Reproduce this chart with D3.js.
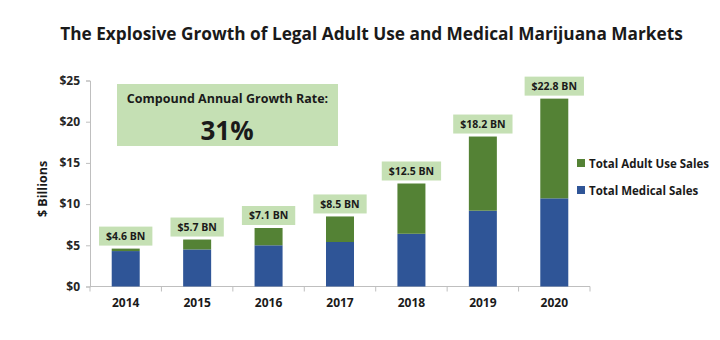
<!DOCTYPE html>
<html>
<head>
<meta charset="utf-8">
<script src="https://cdn.jsdelivr.net/npm/d3@7/dist/d3.min.js"></script>
<style>
  html, body { margin: 0; padding: 0; background: #fff; }
  svg { display: block; font-family: "Open Sans", Lato, sans-serif; }
</style>
</head>
<body>
<svg id="chart" width="720" height="340"></svg>
<script>
// Market size by year, $ billions
const years = ["2014", "2015", "2016", "2017", "2018", "2019", "2020"];
const medicalSales = [4.3, 4.5, 5.0, 5.4, 6.4, 9.2, 10.7];
const totalSales = [4.6, 5.7, 7.1, 8.5, 12.5, 18.2, 22.8];
const adultUseSales = [0.3, 1.2, 2.1, 3.1, 6.1, 9.0, 12.1];
const yTicks = [0, 5, 10, 15, 20, 25];
const seriesNames = ["Total Adult Use Sales", "Total Medical Sales"];
const cagrLabel = "Compound Annual Growth Rate:";
const cagrValue = "31%";
const titleText = "The Explosive Growth of Legal Adult Use and Medical Marijuana Markets";

const colors = { medical: "#2f5597", adult: "#548235", box: "#c5e0b4", axis: "#bfbfbf", text: "#1a1a1a" };

// Shrink a text's font size until it fits the given width
function fitWidth(sel, width) {
  const size = +sel.attr("font-size");
  const w = sel.node().getComputedTextLength();
  if (w > width) sel.attr("font-size", (size * width / w).toFixed(2));
  return sel;
}

const svg = d3.select("#chart");

const x = d3.scaleBand().domain(years).range([90, 590]).paddingInner(0.608).paddingOuter(0.304);
const y = d3.scaleLinear().domain([0, 25]).range([286.5, 80.5]);

// Title
fitWidth(svg.append("text")
  .attr("x", 371.5).attr("y", 40)
  .attr("text-anchor", "middle")
  .attr("font-size", 19).attr("font-weight", 700)
  .attr("fill", colors.text)
  .text(titleText), 623);

// Y axis
const yAxis = svg.append("g").attr("transform", "translate(90,0)")
  .call(d3.axisLeft(y).tickValues(yTicks).tickSize(4).tickFormat(d => "$" + d));
yAxis.select(".domain").attr("stroke", colors.axis);
yAxis.selectAll(".tick line").attr("stroke", colors.axis);
yAxis.selectAll(".tick text")
  .attr("x", -10)
  .attr("font-family", "'Open Sans', sans-serif")
  .attr("font-size", 12).attr("font-weight", 700).attr("fill", "#262626");

// Y axis title
svg.append("text")
  .attr("transform", "translate(47,189) rotate(-90)")
  .attr("text-anchor", "middle")
  .attr("font-size", 12.5).attr("font-weight", 700)
  .attr("fill", colors.text)
  .text("$ Billions");

// X axis baseline with category boundary ticks
const step = x.step();
const x0 = x.range()[0];
svg.append("line")
  .attr("x1", 90).attr("x2", 590).attr("y1", y(0)).attr("y2", y(0))
  .attr("stroke", colors.axis);
svg.append("g").selectAll("line")
  .data(d3.range(years.length + 1))
  .join("line")
  .attr("x1", i => x0 + i * step).attr("x2", i => x0 + i * step)
  .attr("y1", y(0)).attr("y2", y(0) + 5)
  .attr("stroke", colors.axis);
svg.append("g").selectAll("text")
  .data(years)
  .join("text")
  .attr("x", d => x(d) + x.bandwidth() / 2)
  .attr("y", 307)
  .attr("text-anchor", "middle")
  .attr("font-size", 12).attr("font-weight", 700)
  .attr("fill", colors.text)
  .text(d => d);

// Stacked bars
const rows = years.map((yr, i) => ({ year: yr, medical: medicalSales[i], adult: adultUseSales[i], total: totalSales[i] }));
const bars = svg.append("g");
bars.selectAll("rect.med")
  .data(rows).join("rect").attr("class", "med")
  .attr("x", d => x(d.year)).attr("width", x.bandwidth())
  .attr("y", d => y(d.medical)).attr("height", d => y(0) - y(d.medical))
  .attr("fill", colors.medical);
bars.selectAll("rect.adult")
  .data(rows).join("rect").attr("class", "adult")
  .attr("x", d => x(d.year)).attr("width", x.bandwidth())
  .attr("y", d => y(d.total)).attr("height", d => y(d.medical) - y(d.total))
  .attr("fill", colors.adult);

// Total value labels in boxes above each bar
const labels = svg.append("g").selectAll("g").data(rows).join("g");
labels.each(function (d) {
  const g = d3.select(this);
  const cx = x(d.year) + x.bandwidth() / 2;
  const bottom = y(d.total) - 3;
  const rect = g.append("rect").attr("fill", colors.box);
  const t = g.append("text")
    .attr("x", cx).attr("y", bottom - 5.5)
    .attr("text-anchor", "middle")
    .attr("font-size", 10.5).attr("font-weight", 700)
    .attr("fill", colors.text)
    .text("$" + d.total.toFixed(1) + " BN");
  const w = t.node().getComputedTextLength() + 14;
  rect.attr("x", cx - w / 2).attr("y", bottom - 19).attr("width", w).attr("height", 19);
});

// Growth rate callout
svg.append("rect")
  .attr("x", 117).attr("y", 84).attr("width", 221).attr("height", 62)
  .attr("fill", colors.box);
fitWidth(svg.append("text")
  .attr("x", 227.5).attr("y", 103)
  .attr("text-anchor", "middle")
  .attr("font-size", 12.5).attr("font-weight", 700)
  .attr("fill", colors.text)
  .text(cagrLabel), 204);
svg.append("text")
  .attr("x", 227).attr("y", 139.5)
  .attr("text-anchor", "middle")
  .attr("font-size", 26).attr("font-weight", 700)
  .attr("fill", colors.text)
  .text(cagrValue);

// Legend
const legend = svg.append("g").selectAll("g")
  .data(seriesNames).join("g")
  .attr("transform", (d, i) => `translate(577,${163 + i * 27})`);
legend.append("rect")
  .attr("x", 0).attr("y", -4).attr("width", 8).attr("height", 8)
  .attr("fill", (d, i) => i === 0 ? colors.adult : colors.medical);
legend.append("text")
  .attr("x", 12).attr("y", 4.5)
  .attr("font-size", 11.5).attr("font-weight", 700)
  .attr("fill", colors.text)
  .text(d => d);
</script>
</body>
</html>
